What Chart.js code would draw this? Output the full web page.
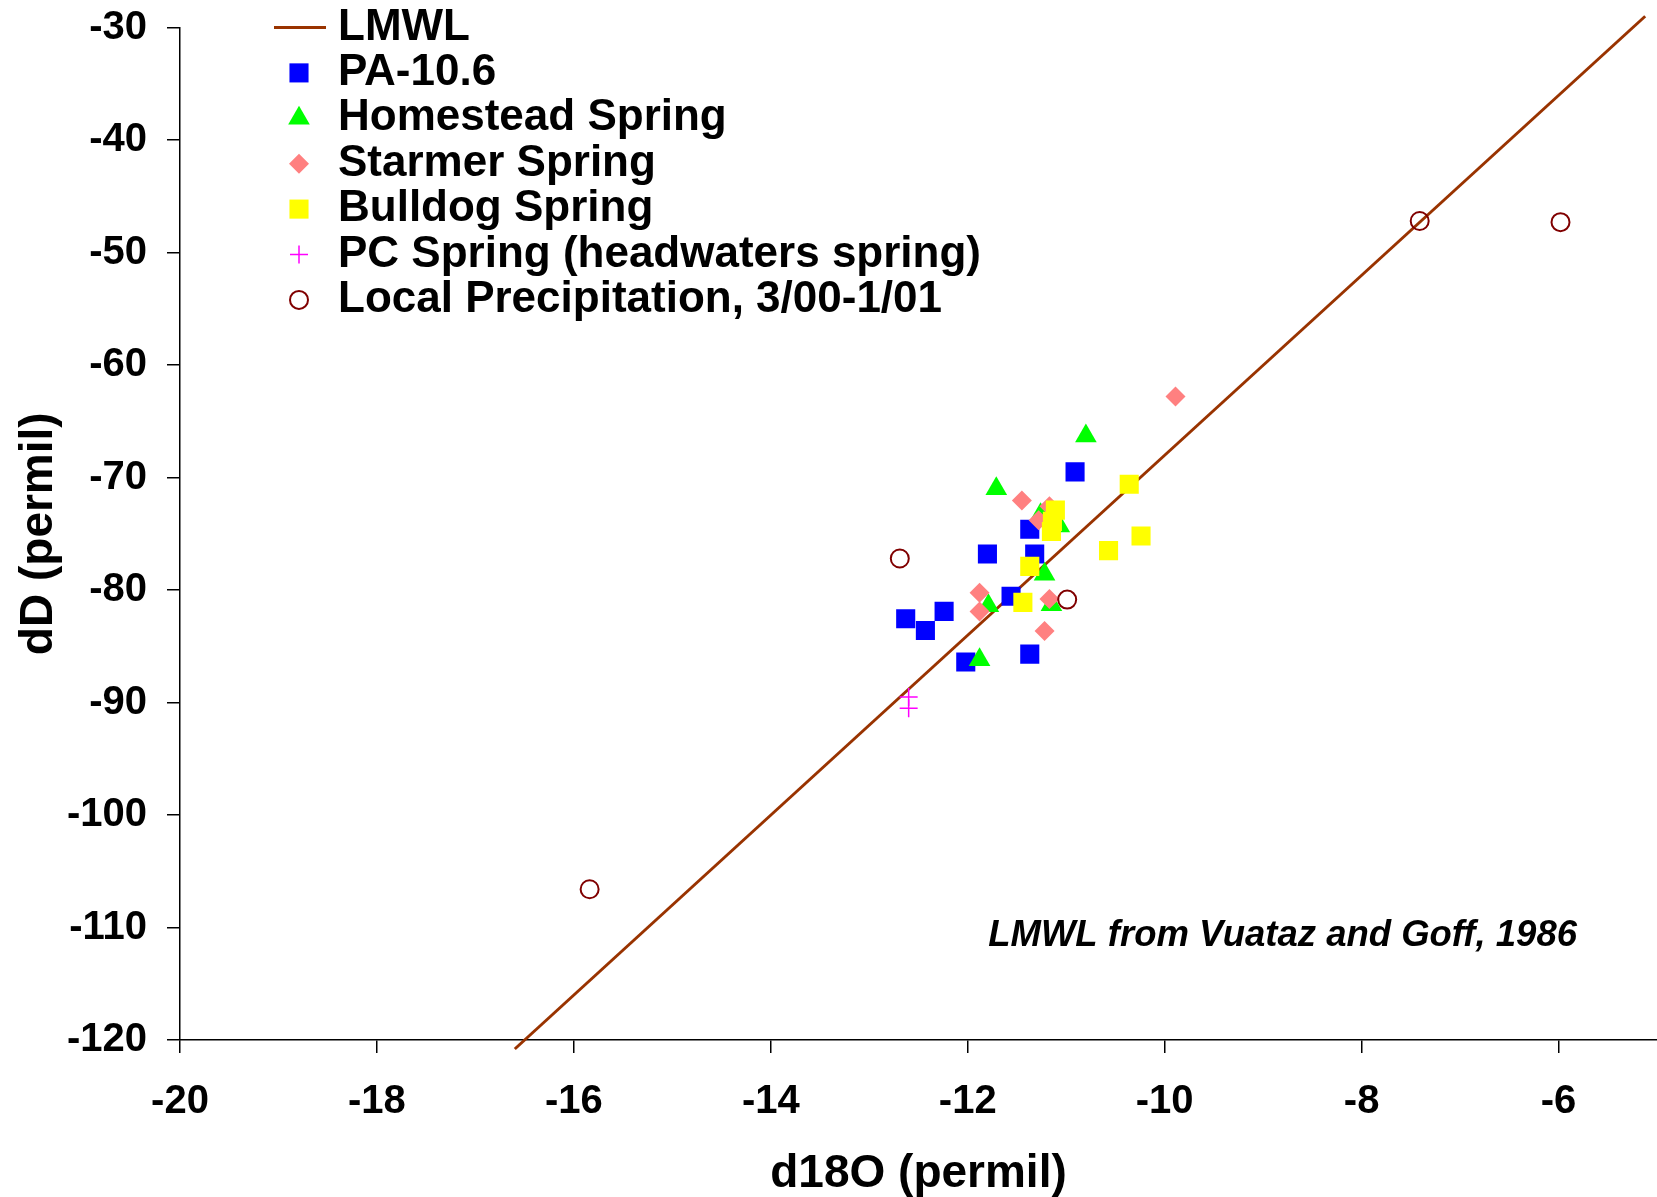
<!DOCTYPE html>
<html lang="en">
<head>
    <meta charset="UTF-8">
    <title>dD vs d18O</title>
    <script src="https://cdn.jsdelivr.net/npm/chart.js"></script>
    <style>
        html, body { margin: 0; padding: 0; background: #fff; overflow: hidden; }
        #wrap { width: 1657px; height: 1197px; }
    </style>
</head>
<body>
    <div id="wrap"><canvas id="isoChart"></canvas></div>

    <script>
        // LMWL endpoints (dD = 8 d18O + 12)
        const lmwlX = [-16.6, -5.12];
        const lmwlY = [-120.8, -29.0];

        // PA-10.6
        const paX = [-10.91, -11.37, -11.80, -11.32, -11.56, -12.63, -12.24, -12.43, -11.37, -12.02];
        const paY = [-69.5, -74.6, -76.8, -76.8, -80.55, -82.55, -81.9, -83.6, -85.7, -86.4];

        // Homestead Spring
        const homesteadX = [-10.80, -11.71, -11.26, -11.07, -11.22, -11.79, -11.15, -11.88];
        const homesteadY = [-66.3, -71.0, -73.3, -74.3, -78.6, -81.4, -81.3, -86.2];

        // Starmer Spring
        const starmerX = [-9.89, -11.45, -11.17, -11.28, -11.88, -11.88, -11.17, -11.22];
        const starmerY = [-62.8, -72.05, -72.55, -73.8, -80.25, -81.9, -80.8, -83.65];

        // Bulldog Spring
        const bulldogX = [-10.36, -11.11, -11.14, -11.15, -10.57, -10.24, -11.37, -11.44];
        const bulldogY = [-70.6, -72.9, -73.9, -74.8, -76.5, -75.2, -77.9, -81.1];

        // PC Spring (headwaters spring)
        const pcX = [-12.60, -12.60];
        const pcY = [-89.5, -90.5];

        // Local Precipitation, 3/00-1/01
        const precipX = [-7.41, -5.98, -15.84, -12.69, -10.99];
        const precipY = [-47.2, -47.3, -106.6, -77.2, -80.85];

        const xTickStep = 2;
        const yTickStep = 10;

        const FONT = '"Liberation Sans", Arial, sans-serif';

        function pts(xs, ys) {
            return xs.map((x, i) => ({ x: x, y: ys[i] }));
        }

        // Legend drawn in the top-left of the plot, one entry per row
        const rowLegend = {
            id: 'rowLegend',
            afterDraw(chart) {
                const ctx = chart.ctx;
                ctx.save();
                ctx.font = 'bold 44px ' + FONT;
                ctx.textBaseline = 'middle';
                ctx.textAlign = 'left';
                chart.data.datasets.forEach((ds, i) => {
                    const cy = 27.5 + i * 45.4;
                    if (ds.showLine) {
                        ctx.strokeStyle = ds.borderColor;
                        ctx.lineWidth = ds.borderWidth;
                        ctx.beginPath();
                        ctx.moveTo(274, cy);
                        ctx.lineTo(326, cy);
                        ctx.stroke();
                    } else {
                        ctx.fillStyle = ds.backgroundColor;
                        ctx.strokeStyle = ds.borderColor;
                        ctx.lineWidth = ds.borderWidth;
                        Chart.helpers.drawPoint(ctx, {
                            pointStyle: ds.pointStyle,
                            radius: ds.pointRadius,
                            borderWidth: ds.borderWidth,
                            rotation: 0
                        }, 299, cy);
                    }
                    ctx.fillStyle = '#000';
                    ctx.fillText(ds.label, 338, cy);
                });

                // source note
                ctx.font = 'italic bold 36.5px ' + FONT;
                ctx.textAlign = 'right';
                ctx.fillText('LMWL from Vuataz and Goff, 1986', chart.chartArea.right - 80, 936);
                ctx.restore();
            }
        };

        new Chart(document.getElementById('isoChart'), {
            type: 'scatter',
            data: {
                datasets: [
                    {
                        label: 'LMWL',
                        data: pts(lmwlX, lmwlY),
                        showLine: true,
                        borderColor: '#993300',
                        backgroundColor: '#993300',
                        borderWidth: 3,
                        pointRadius: 0,
                        clip: false,
                        order: 7
                    },
                    {
                        label: 'PA-10.6',
                        data: pts(paX, paY),
                        pointStyle: 'rect',
                        pointRadius: 13.5,
                        backgroundColor: '#0000FF',
                        borderColor: '#0000FF',
                        borderWidth: 0,
                        order: 6
                    },
                    {
                        label: 'Homestead Spring',
                        data: pts(homesteadX, homesteadY),
                        pointStyle: 'triangle',
                        pointRadius: 12.5,
                        backgroundColor: '#00FF00',
                        borderColor: '#00FF00',
                        borderWidth: 0,
                        order: 5
                    },
                    {
                        label: 'Starmer Spring',
                        data: pts(starmerX, starmerY),
                        pointStyle: 'rectRot',
                        pointRadius: 10,
                        backgroundColor: '#FF8080',
                        borderColor: '#FF8080',
                        borderWidth: 0,
                        order: 4
                    },
                    {
                        label: 'Bulldog Spring',
                        data: pts(bulldogX, bulldogY),
                        pointStyle: 'rect',
                        pointRadius: 13.5,
                        backgroundColor: '#FFFF00',
                        borderColor: '#FFFF00',
                        borderWidth: 0,
                        order: 3
                    },
                    {
                        label: 'PC Spring (headwaters spring)',
                        data: pts(pcX, pcY),
                        pointStyle: 'cross',
                        pointRadius: 9,
                        backgroundColor: '#FF00FF',
                        borderColor: '#FF00FF',
                        borderWidth: 1.5,
                        order: 2
                    },
                    {
                        label: 'Local Precipitation, 3/00-1/01',
                        data: pts(precipX, precipY),
                        pointStyle: 'circle',
                        pointRadius: 9,
                        backgroundColor: 'rgba(255,255,255,0)',
                        borderColor: '#800000',
                        borderWidth: 2,
                        order: 1
                    }
                ]
            },
            options: {
                responsive: true,
                maintainAspectRatio: false,
                animation: false,
                events: [],
                layout: {
                    autoPadding: false,
                    padding: { top: 27.5, right: 0, left: 0, bottom: 0 }
                },
                plugins: {
                    legend: { display: false },
                    tooltip: { enabled: false }
                },
                scales: {
                    x: {
                        type: 'linear',
                        min: -20,
                        max: -5,
                        afterFit(scale) {
                            scale.height = 157;
                            scale.paddingLeft = 0;
                            scale.paddingRight = 0;
                        },
                        ticks: {
                            stepSize: xTickStep,
                            includeBounds: false,
                            color: '#000',
                            padding: 25,
                            font: { family: FONT, size: 40, weight: 'bold', lineHeight: 1.2 }
                        },
                        grid: { drawOnChartArea: false, tickLength: 13, color: '#000', lineWidth: 1.5 },
                        border: { color: '#000', width: 1.5 },
                        title: {
                            display: true,
                            text: 'd18O (permil)',
                            color: '#000',
                            padding: { top: 0, bottom: 0 },
                            font: { family: FONT, size: 46, weight: 'bold', lineHeight: 1.0 }
                        }
                    },
                    y: {
                        type: 'linear',
                        min: -120,
                        max: -30,
                        afterFit(scale) {
                            scale.width = 180;
                            scale.paddingTop = 0;
                            scale.paddingBottom = 0;
                        },
                        ticks: {
                            stepSize: yTickStep,
                            color: '#000',
                            padding: 20,
                            font: { family: FONT, size: 40, weight: 'bold', lineHeight: 1.2 }
                        },
                        grid: { drawOnChartArea: false, tickLength: 13, color: '#000', lineWidth: 1.5 },
                        border: { color: '#000', width: 1.5 },
                        title: {
                            display: true,
                            text: 'dD (permil)',
                            color: '#000',
                            padding: { top: 12, bottom: 0 },
                            font: { family: FONT, size: 46, weight: 'bold', lineHeight: 1.2 }
                        }
                    }
                }
            },
            plugins: [rowLegend]
        });
    </script>
</body>
</html>
